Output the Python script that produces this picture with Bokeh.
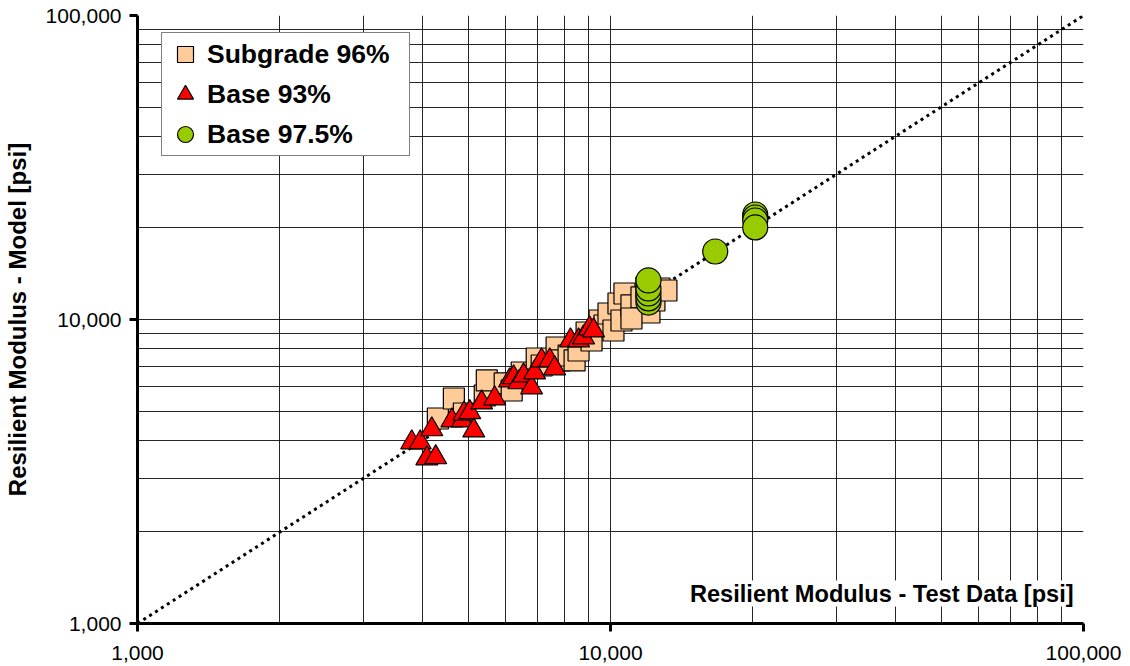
from bokeh.plotting import figure
from bokeh.models import (FixedTicker, NumeralTickFormatter, Label, Legend, LegendItem,
                          ColumnDataSource)
from bokeh.embed import file_html
from bokeh.resources import INLINE

# ---------------- data ----------------
subgrade_x = [4315, 4665, 4897, 5422, 5476, 5975, 6182, 6490, 6982, 7152, 7692, 7806,
              8155, 8397, 8560, 8901, 9119, 9480, 9712, 9903, 10146, 10396, 10548,
              10704, 11074, 11628, 11913, 12088, 12384, 12689, 13129, 11074]
subgrade_y = [4725, 5497, 4907, 5623, 6302, 6160, 5840, 6693, 7442, 7058, 8088, 7333,
              7612, 7333, 7907, 9063, 8528, 9924, 9556, 10464, 9201, 11290, 9924,
              12176, 11121, 11816, 12740, 10545, 11548, 12647, 12456, 10076]

base93_x = [3800, 3960, 4090, 4270, 4190, 4620, 4860, 4900, 5040, 5140, 5340, 5690,
            6120, 6240, 6400, 6550, 6810, 6910, 7150, 7440, 7620, 8230, 8560, 8770,
            9030, 9210]
base93_y = [3940, 3940, 3490, 3520, 4350, 4650, 4650, 4900, 4950, 4310, 5330, 5500,
            6300, 6450, 6210, 6540, 5970, 6690, 7330, 7330, 6900, 8530, 8530, 8730,
            9340, 9200]

base975_x = [12030, 12030, 12030, 12030, 12030, 16650, 20230, 20230, 20230, 20230]
base975_y = [11370, 11730, 12180, 12650, 13440, 16740, 22150, 21650, 21170, 20080]

line_xy = [1000, 100000]
major_ticks = [1000, 10000, 100000]
grid_ticks = [m * d for d in (1000, 10000) for m in range(1, 10)] + [100000]

FONT = "Liberation Sans"

p = figure(width=1130, height=666, x_axis_type="log", y_axis_type="log",
           x_range=(1000, 100000), y_range=(1000, 100000),
           output_backend="svg", toolbar_location=None,
           min_border_left=135, min_border_right=47, min_border_top=15,
           min_border_bottom=43)
p.outline_line_color = None
p.background_fill_color = "white"

# grids
for g in (p.xgrid, p.ygrid):
    g.ticker = FixedTicker(ticks=grid_ticks)
    g.grid_line_color = "black"
    g.grid_line_width = 1
    g.grid_line_alpha = 0.85

# axes
for ax in (p.xaxis, p.yaxis):
    ax.ticker = FixedTicker(ticks=major_ticks)
    ax.formatter = NumeralTickFormatter(format="0,0")
    ax.axis_line_width = 3
    ax.axis_line_color = "black"
    ax.major_tick_line_width = 3
    ax.major_tick_out = 8
    ax.major_tick_in = 0
    ax.minor_tick_line_color = None
    ax.major_label_text_font = FONT
    ax.major_label_text_font_size = "21px"
    ax.major_label_text_color = "black"
p.yaxis.major_label_standoff = 8
p.xaxis.major_label_standoff = 14

p.yaxis.axis_label = "Resilient Modulus - Model [psi]"
p.yaxis.axis_label_text_font = FONT
p.yaxis.axis_label_text_font_size = "24px"
p.yaxis.axis_label_text_font_style = "bold"
p.yaxis.axis_label_text_color = "black"
p.yaxis.axis_label_standoff = 12

# 1:1 line
p.line(line_xy, line_xy, line_color="black", line_width=3, line_dash="3 4")

src_s = ColumnDataSource(dict(x=subgrade_x, y=subgrade_y))
src_t = ColumnDataSource(dict(x=base93_x, y=base93_y))
src_c = ColumnDataSource(dict(x=base975_x, y=base975_y))

r_s = p.scatter("x", "y", source=src_s, marker="square", size=21,
                fill_color="#FFCC99", line_color="black", line_width=1.2)
r_t = p.scatter("x", "y", source=src_t, marker="triangle", size=22,
                fill_color="#FF0000", line_color="black", line_width=1.2)
r_c = p.scatter("x", "y", source=src_c, marker="circle", size=25,
                fill_color="#99CC00", line_color="black", line_width=1.2)

legend = Legend(items=[LegendItem(label="Subgrade 96%", renderers=[r_s]),
                       LegendItem(label="Base 93%", renderers=[r_t]),
                       LegendItem(label="Base 97.5%", renderers=[r_c])],
                location=(24, 467), margin=0, padding=1, spacing=0,
                glyph_width=44, glyph_height=40, label_height=40,
                label_standoff=0, label_width=201,
                label_text_font=FONT, label_text_font_size="26.5px",
                label_text_font_style="bold", label_text_color="black",
                border_line_color="black", border_line_width=1,
                background_fill_color="white", background_fill_alpha=1)
p.add_layout(legend)

xlab = Label(x=95300, y=1255, text="Resilient Modulus - Test Data [psi]",
             text_align="right", text_baseline="middle",
             text_font=FONT, text_font_size="23.6px", text_font_style="bold",
             text_color="black", background_fill_color="white")
p.add_layout(xlab)

open("out.html", "w").write(file_html(p, INLINE))
